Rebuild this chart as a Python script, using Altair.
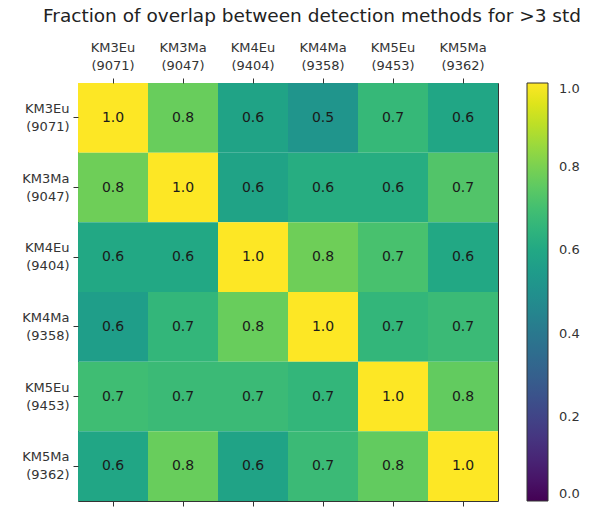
import altair as alt
import pandas as pd

labels = ["KM3Eu\n(9071)", "KM3Ma\n(9047)", "KM4Eu\n(9404)",
          "KM4Ma\n(9358)", "KM5Eu\n(9453)", "KM5Ma\n(9362)"]

row_km3eu = [1.00, 0.77, 0.58, 0.52, 0.67, 0.59]
row_km3ma = [0.78, 1.00, 0.58, 0.62, 0.62, 0.73]
row_km4eu = [0.60, 0.60, 1.00, 0.78, 0.71, 0.60]
row_km4ma = [0.56, 0.66, 0.77, 1.00, 0.66, 0.68]
row_km5eu = [0.69, 0.68, 0.68, 0.66, 1.00, 0.76]
row_km5ma = [0.59, 0.77, 0.58, 0.68, 0.76, 1.00]

matrix = [row_km3eu, row_km3ma, row_km4eu, row_km4ma, row_km5eu, row_km5ma]

records = []
for i, r in enumerate(labels):
    for j, c in enumerate(labels):
        records.append({"row": r, "col": c, "value": matrix[i][j]})
df = pd.DataFrame(records)

FONT = "DejaVu Sans"
split_expr = "split(datum.label, '\\n')"

x_top = alt.X("col:N", sort=labels, title=None,
              scale=alt.Scale(paddingInner=0, paddingOuter=0),
              axis=alt.Axis(orient="top", labelExpr=split_expr, labelAngle=0,
                            labelFont=FONT, labelFontSize=13, labelColor="#333",
                            labelPadding=24, tickSize=5, tickColor="#333",
                            domain=False, labelLineHeight=18))
x_bottom = alt.X("col:N", sort=labels, title=None,
                 scale=alt.Scale(paddingInner=0, paddingOuter=0),
                 axis=alt.Axis(orient="bottom", labels=False, tickSize=5,
                               tickColor="#333", domain=False))
y_axis = alt.Y("row:N", sort=labels, title=None,
               scale=alt.Scale(paddingInner=0, paddingOuter=0),
               axis=alt.Axis(orient="left", labelExpr=split_expr,
                             labelFont=FONT, labelFontSize=13, labelColor="#333",
                             labelPadding=4, tickSize=5, tickColor="#333",
                             labelOffset=-9,
                             domain=False, labelLineHeight=18, labelAlign="right"))

heat = alt.Chart(df).mark_rect(stroke=None).encode(
    x=x_top,
    y=y_axis,
    color=alt.Color("value:Q",
                    scale=alt.Scale(scheme="viridis", domain=[0, 1]),
                    legend=alt.Legend(title=None, orient="right", offset=29,
                                      gradientLength=418, gradientThickness=21,
                                      values=[0, 0.2, 0.4, 0.6, 0.8, 1.0],
                                      format=".1f", labelFont=FONT,
                                      labelFontSize=13, labelColor="#333",
                                      labelOffset=11, gradientStrokeColor="#333",
                                      gradientStrokeWidth=1)),
)

text = alt.Chart(df).mark_text(font=FONT, fontSize=14, color="#1a1a1a").encode(
    x=x_bottom,
    y=y_axis,
    text=alt.Text("value:Q", format=".1f"),
)

chart = alt.layer(heat, text).resolve_axis(x="independent").properties(
    width=420,
    height=418,
    title=alt.TitleParams("Fraction of overlap between detection methods for >3 std",
                          font=FONT, fontSize=18.5, fontWeight="normal",
                          color="#222", anchor="middle", dx=24, offset=16),
    autosize=alt.AutoSizeParams(type="none"),
    padding={"left": 78, "top": 83, "right": 94, "bottom": 9},
).configure_view(stroke="#333", strokeWidth=1)

chart.save("out.html", embed_options={"renderer": "svg", "actions": False})
